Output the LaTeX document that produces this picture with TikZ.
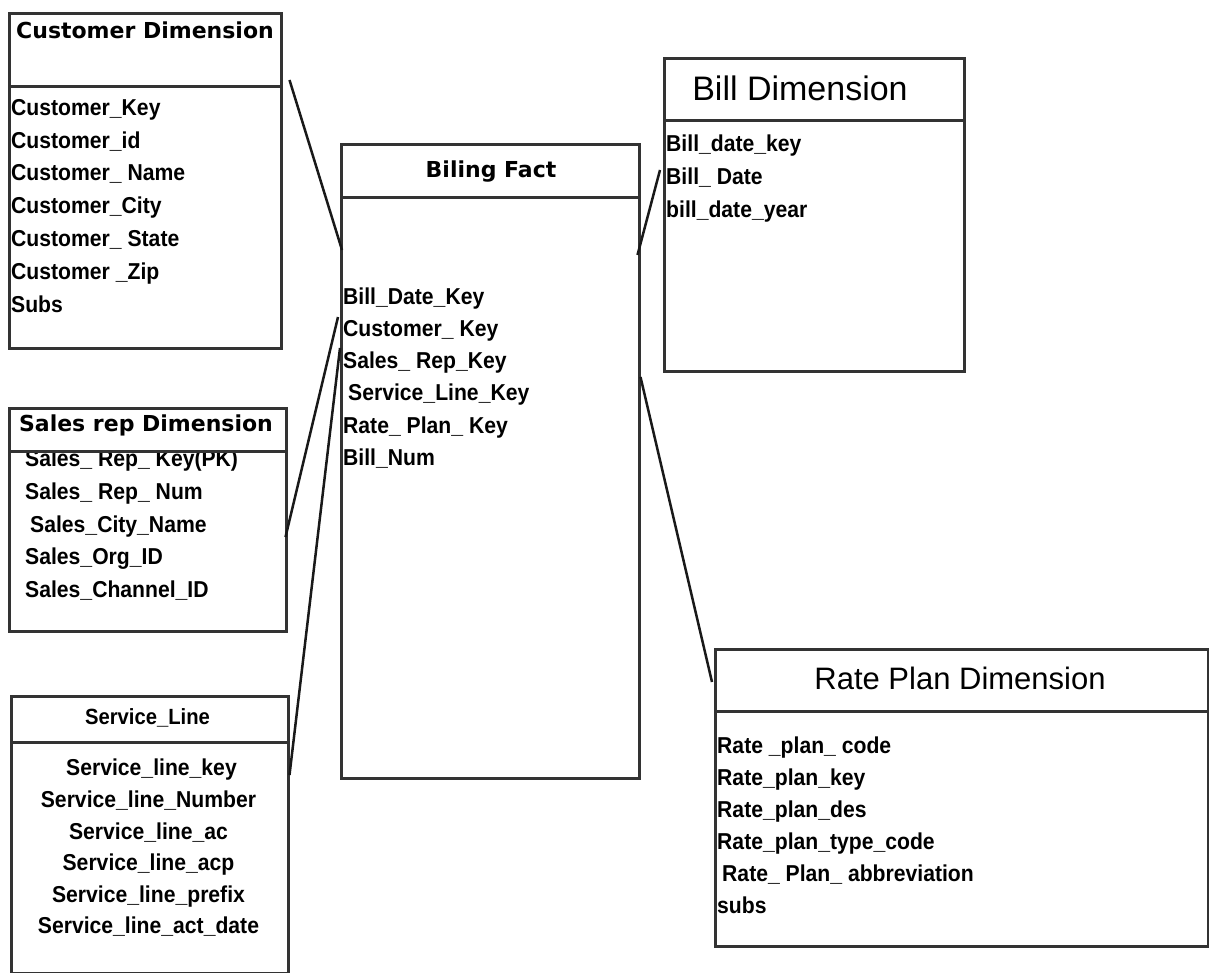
\documentclass[tikz,border=0pt]{standalone}
\usepackage{fontspec}
\setmainfont{Liberation Sans}
\newfontfamily\fieldfont{Liberation Sans}[FakeStretch=0.92]
\newfontfamily\headfont{DejaVu Sans}
\usetikzlibrary{calc}

\tikzset{
    tbl/.style={draw=black!80, line width=2.5pt, fill=white, anchor=north west, inner sep=0pt},
    hdr/.style={tbl, line width=3pt},
    fields/.style={anchor=north west, inner sep=0pt, align=left, font=\fieldfont\bfseries\fontsize{23pt}{#1}\selectfont},
    boldtitle/.style={inner sep=0pt, font=\headfont\bfseries\fontsize{22pt}{26pt}\selectfont},
    plaintitle/.style={inner sep=0pt, font=\fontsize{#1}{#1}\selectfont},
    link/.style={line width=2.5pt, black!90}
}

\begin{document}
\begin{tikzpicture}[x=1pt, y=-1pt]
    \useasboundingbox (0,0) rectangle (1209,973);

    \node[tbl, minimum width=272pt, minimum height=335pt] (cust) at (8,12) {};
    \node[fields=32.8pt] (cust-fields) at (11,99) {Customer\_Key\\Customer\_id\\Customer\_ Name\\Customer\_City\\Customer\_ State\\Customer \_Zip\\Subs};
    \node[hdr, minimum width=272pt, minimum height=73pt] (cust-head) at (cust.north west) {};
    \node[boldtitle] (cust-title) at (145,30) {Customer Dimension};

    \node[tbl, minimum width=277pt, minimum height=223pt] (sales) at (8,407) {};
    \node[fields=32.6pt] (sales-fields) at (25,450) {Sales\_ Rep\_ Key(PK)\\Sales\_ Rep\_ Num\\\hspace*{5pt}Sales\_City\_Name\\Sales\_Org\_ID\\Sales\_Channel\_ID};
    \node[hdr, minimum width=277pt, minimum height=43pt] (sales-head) at (sales.north west) {};
    \node[boldtitle] (sales-title) at (146,425) {Sales rep Dimension};

    \node[tbl, minimum width=277pt, minimum height=277pt] (serv) at (10,695) {};
    \node[fields=31.6pt, anchor=north, align=center] (serv-fields) at (148.5,759) {\hspace*{6pt}Service\_line\_key\\Service\_line\_Number\\Service\_line\_ac\\Service\_line\_acp\\Service\_line\_prefix\\Service\_line\_act\_date};
    \node[hdr, minimum width=277pt, minimum height=46pt] (serv-head) at (serv.north west) {};
    \node[inner sep=0pt, font=\fieldfont\bfseries\fontsize{22pt}{26pt}\selectfont] (serv-title) at (147.5,718) {Service\_Line};

    \node[tbl, minimum width=298pt, minimum height=634pt] (fact) at (340,143) {};
    \node[fields=32.2pt] (fact-fields) at (343,287.5) {Bill\_Date\_Key\\Customer\_ Key\\Sales\_ Rep\_Key\\\hspace*{5pt}Service\_Line\_Key\\Rate\_ Plan\_ Key\\Bill\_Num};
    \node[hdr, minimum width=298pt, minimum height=53pt] (fact-head) at (fact.north west) {};
    \node[boldtitle] (fact-title) at (491,172) {Biling Fact};

    \node[tbl, minimum width=300pt, minimum height=313pt] (bill) at (663,57) {};
    \node[fields=33pt] (bill-fields) at (666,135) {Bill\_date\_key\\Bill\_ Date\\bill\_date\_year};
    \node[hdr, minimum width=300pt, minimum height=62pt] (bill-head) at (bill.north west) {};
    \node[plaintitle=34pt] (bill-title) at (800,88) {Bill Dimension};

    \node[tbl, minimum width=493pt, minimum height=297pt] (rate) at (714,648) {};
    \node[fields=32pt] (rate-fields) at (717,737) {Rate \_plan\_ code\\Rate\_plan\_key\\Rate\_plan\_des\\Rate\_plan\_type\_code\\\hspace*{5pt}Rate\_ Plan\_ abbreviation\\subs};
    \node[hdr, minimum width=493pt, minimum height=62pt] (rate-head) at (rate.north west) {};
    \node[plaintitle=31pt] (rate-title) at (960,678) {Rate Plan Dimension};

    \draw[link] ($(cust.north east)+(7,68)$) -- ($(fact.north west)+(2,107)$);
    \draw[link] ($(sales.north east)+(-2,130)$) -- ($(fact.north west)+(-2,174)$);
    \draw[link] ($(serv.north east)+(0,80)$) -- ($(fact.north west)+(0,205)$);
    \draw[link] ($(bill.north west)+(-3,113)$) -- ($(fact.north east)+(-3,112)$);
    \draw[link] ($(fact.north east)+(0,234)$) -- ($(rate.north west)+(-2,34)$);
\end{tikzpicture}
\end{document}
